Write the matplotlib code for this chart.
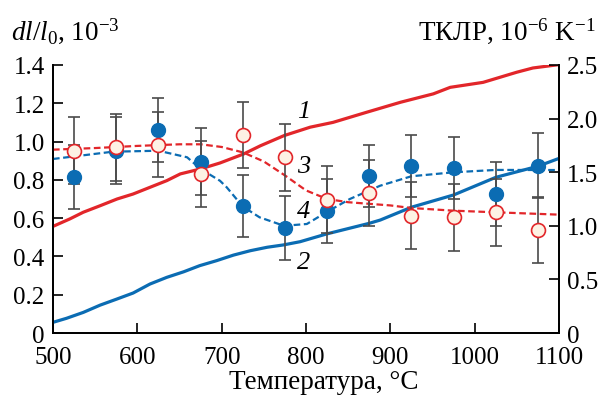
import matplotlib
matplotlib.use("Agg")
import matplotlib.pyplot as plt
import numpy as np

plt.rcParams['font.family'] = ['Liberation Serif', 'DejaVu Serif']
plt.rcParams['mathtext.fontset'] = 'custom'
plt.rcParams['mathtext.rm'] = 'Liberation Serif'
plt.rcParams['mathtext.it'] = 'Liberation Serif:italic'

# ---- data ----
# curve 1: dl/l0 (left axis), red solid
T1 = [500, 520, 536, 556, 576, 595, 615, 635, 651, 675, 698, 726, 746, 774, 805,
      832, 872, 912, 951, 971, 1010, 1050, 1069, 1097, 1100]
c1 = [0.557, 0.596, 0.631, 0.665, 0.700, 0.726, 0.761, 0.796, 0.831, 0.857, 0.888,
      0.935, 0.978, 1.031, 1.075, 1.100, 1.153, 1.205, 1.249, 1.283, 1.309, 1.362,
      1.384, 1.400, 1.402]
# curve 2: dl/l0 (left axis), blue solid
T2 = [500, 516, 536, 556, 576, 595, 615, 635, 655, 674, 694, 714, 734, 754, 773,
      793, 824, 875, 888, 925, 975, 1025, 1075, 1100]
c2 = [0.056, 0.077, 0.108, 0.146, 0.178, 0.209, 0.256, 0.291, 0.320, 0.352, 0.378,
      0.407, 0.430, 0.448, 0.460, 0.477, 0.517, 0.573, 0.590, 0.657, 0.721, 0.813,
      0.871, 0.912]
# curve 3: TKLR (right axis), red dashed
T3 = [500, 550, 600, 650, 675, 700, 725, 750, 775, 800, 825, 850, 875, 900, 925,
      975, 1025, 1100]
c3 = [1.71, 1.725, 1.745, 1.76, 1.76, 1.735, 1.685, 1.60, 1.47, 1.33, 1.25, 1.22,
      1.205, 1.19, 1.166, 1.141, 1.126, 1.104]
# curve 4: TKLR (right axis), blue dashed
T4 = [500, 571, 625, 659, 675, 698, 706, 725, 745, 774, 801, 824, 852, 888, 925,
      975, 1025, 1100]
c4 = [1.623, 1.691, 1.70, 1.639, 1.53, 1.42, 1.359, 1.18, 1.079, 1.0, 1.017, 1.126,
      1.25, 1.374, 1.462, 1.499, 1.521, 1.52]

# measured points (right axis)
Tp = [525, 575, 625, 675, 725, 775, 825, 875, 925, 975, 1025, 1075]
blue_pts = [1.458, 1.70, 1.894, 1.598, 1.182, 0.977, 1.141, 1.467, 1.561, 1.539, 1.297, 1.561]
blue_err = [0.30, 0.31, 0.30, 0.31, 0.29, 0.30, 0.30, 0.29, 0.29, 0.29, 0.30, 0.30]
red_pts = [1.70, 1.732, 1.757, 1.483, 1.847, 1.639, 1.244, 1.306, 1.094, 1.079, 1.126, 0.961]
red_err = [0.31, 0.31, 0.30, 0.31, 0.31, 0.31, 0.31, 0.31, 0.31, 0.31, 0.31, 0.31]

xticks = [500, 600, 700, 800, 900, 1000, 1100]
lticks = [0, 0.2, 0.4, 0.6, 0.8, 1.0, 1.2, 1.4]
lticklabels = ['0', '0.2', '0.4', '0.6', '0.8', '1.0', '1.2', '1.4']
rticks = [0, 0.5, 1.0, 1.5, 2.0, 2.5]
rticklabels = ['0', '0.5', '1.0', '1.5', '2.0', '2.5']

RED = '#e2262a'
BLUE = '#0b6cb3'
ERR = '#4a4a4a'

fig = plt.figure(figsize=(6.02, 4.02), dpi=100)
ax = fig.add_axes([0.088, 0.169, 0.8406, 0.667])
ax2 = ax.twinx()

ax.plot(T1, c1, color=RED, lw=2.3, solid_capstyle='round', zorder=3)
ax.plot(T2, c2, color=BLUE, lw=2.3, solid_capstyle='round', zorder=3)

ax2.plot(T3, c3, color=RED, lw=1.6, ls=(0, (3, 1.6)), zorder=2)
ax2.plot(T4, c4, color=BLUE, lw=1.6, ls=(0, (3, 1.6)), zorder=2)

ax2.errorbar(Tp, blue_pts, yerr=blue_err, fmt='none', ecolor=ERR, elinewidth=1.2,
             capsize=4, capthick=1.2, zorder=3)
ax2.errorbar(Tp, red_pts, yerr=red_err, fmt='none', ecolor=ERR, elinewidth=1.2,
             capsize=4, capthick=1.2, zorder=3)
ax2.plot(Tp, blue_pts, 'o', ms=10, color=BLUE, mec=BLUE, zorder=4)
ax2.plot(Tp, red_pts, 'o', ms=10, mfc='#fdf2e4', mec=RED, mew=1.2, zorder=5)

ax.set_xlim(500, 1100)
ax.set_ylim(0, 1.4)
ax2.set_ylim(0, 2.5)
ax.set_xticks(xticks)
ax.set_xticklabels([str(t) for t in xticks])
ax.set_yticks(lticks)
ax.set_yticklabels(lticklabels)
ax2.set_yticks(rticks)
ax2.set_yticklabels(rticklabels)

for a in (ax, ax2):
    a.spines['top'].set_visible(False)
    for s in a.spines.values():
        s.set_linewidth(1.3)
    a.tick_params(direction='in', length=7, width=1.2, labelsize=18, pad=6)
ax.tick_params(axis='x', pad=9)

ax.set_xlabel('Температура, °C', fontsize=19.5, va='top')
ax.xaxis.set_label_coords(0.535, -0.135)
fig.text(0.018, 0.922, r'$dl/l_0$, 10$^{-3}$', fontsize=19.5, ha='left', va='center')
fig.text(0.99, 0.922, r'ТКЛР, 10$^{-6}$ K$^{-1}$', fontsize=19.5, ha='right', va='center')

# curve labels
for lab, ty in [('1', 1.161), ('3', 0.874), ('4', 0.639), ('2', 0.369)]:
    ax.text(797, ty, lab, fontsize=19, style='italic', ha='center', va='center', zorder=6)

fig.savefig('out.png', dpi=100)
